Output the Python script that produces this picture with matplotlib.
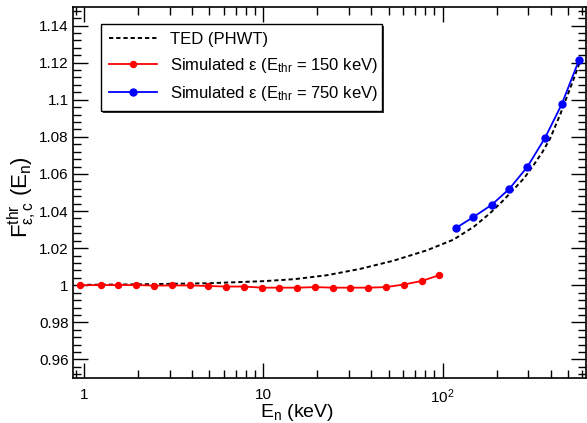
import matplotlib
matplotlib.use("Agg")
import matplotlib.pyplot as plt
from matplotlib.patches import Rectangle
from matplotlib.ticker import FixedLocator, FuncFormatter, MultipleLocator, LogLocator, NullFormatter

plt.rcParams['font.family'] = ['Liberation Sans', 'DejaVu Sans']
plt.rcParams['mathtext.fontset'] = 'custom'
plt.rcParams['mathtext.rm'] = 'Liberation Sans'
plt.rcParams['mathtext.it'] = 'Liberation Sans'
plt.rcParams['mathtext.bf'] = 'Liberation Sans:bold'

# ---- data ----
ted_E = [0.95, 2, 5, 10, 15, 22.6, 34.6, 53, 81.5, 115, 150, 184, 215, 248, 285, 320, 360, 397, 452, 525, 578]
ted_F = [1.0002, 1.0005, 1.0011, 1.0022, 1.0033, 1.0054, 1.0088, 1.0132, 1.0188, 1.0246, 1.0317, 1.0389,
         1.0452, 1.0515, 1.0578, 1.0645, 1.0718, 1.0790, 1.0920, 1.1085, 1.1195]

red_E = [0.95, 1.24, 1.55, 1.96, 2.46, 3.11, 3.9, 4.9, 6.17, 7.77, 9.84, 12.3, 15.5, 19.4, 24.4, 30.6,
         38.5, 48.3, 60.7, 76.4, 95.6]
red_F = [1.0000, 1.0001, 1.0001, 1.0001, 0.9998, 0.9999, 0.9999, 0.9996, 0.9993, 0.9993, 0.9987, 0.9987,
         0.9987, 0.9990, 0.9987, 0.9987, 0.9987, 0.9990, 1.0004, 1.0023, 1.0054]

blue_E = [118.8, 148, 188, 235.5, 296.6, 372.5, 461.5, 576]
blue_F = [1.0309, 1.0367, 1.0434, 1.0520, 1.0638, 1.0795, 1.0976, 1.1214]

x_ticks = [1, 10, 100]
x_ticklabels = ['1', '10', r'$\mathregular{10^{2}}$']
y_ticks = [0.96, 0.98, 1.0, 1.02, 1.04, 1.06, 1.08, 1.10, 1.12, 1.14]

labels = ['TED (PHWT)',
          r'Simulated ε (E$_{\mathregular{thr}}$ = 150 keV)',
          r'Simulated ε (E$_{\mathregular{thr}}$ = 750 keV)']

# ---- figure ----
fig = plt.figure(figsize=(5.87, 4.23), dpi=100)
ax = fig.add_axes([73/587, 45/423, 513/587, 371/423])

ax.plot(ted_E, ted_F, color='black', lw=1.4, dashes=(2.2, 1.5), label=labels[0])
ax.plot(red_E, red_F, color=(1, 0, 0), lw=1.3, marker='o', ms=4.3, label=labels[1])
ax.plot(blue_E, blue_F, color=(0, 0, 1), lw=1.3, marker='o', ms=5.0, label=labels[2])

ax.set_xscale('log')
ax.set_xlim(0.868, 630)
ax.set_ylim(0.95, 1.15)

ax.xaxis.set_major_locator(FixedLocator(x_ticks))
ax.xaxis.set_major_formatter(FuncFormatter(lambda v, p: x_ticklabels[x_ticks.index(round(v))] if round(v) in x_ticks else ''))
ax.xaxis.set_minor_locator(LogLocator(base=10, subs=range(2, 10)))
ax.xaxis.set_minor_formatter(NullFormatter())
ax.yaxis.set_major_locator(FixedLocator(y_ticks))
ax.yaxis.set_major_formatter(FuncFormatter(lambda v, p: '%g' % round(v, 2)))
ax.yaxis.set_minor_locator(MultipleLocator(0.004))

ax.tick_params(which='both', direction='in', top=True, right=True, labelsize=11, width=1)
ax.tick_params(which='major', length=11)
ax.tick_params(which='minor', length=5.5)
ax.tick_params(axis='x', which='major', pad=7)
ax.tick_params(axis='y', which='major', pad=3)
for s in ax.spines.values():
    s.set_linewidth(1.2)

fig.text(260/587, 1 - 417/423, r'E$_{\mathregular{n}}$ (keV)', fontsize=14, ha='left', va='baseline')
fig.text(22/587, 1 - 197/423, r'F$^{\mathregular{thr}}_{\mathregular{ε,c}}$ (E$_{\mathregular{n}}$)',
         fontsize=16, rotation=90, ha='center', va='center')

x0 = (101 - 73) / 513
x1 = (382 - 73) / 513
y0 = (378 - 111.7) / 371
y1 = (378 - 24.3) / 371
leg = ax.legend(loc='upper left', bbox_to_anchor=(x0, y0, x1 - x0, y1 - y0), mode='expand',
                fontsize=12, frameon=True, fancybox=False, shadow=False, edgecolor='black',
                handlelength=2.9, handletextpad=0.8, labelspacing=0.55, borderpad=0.45, borderaxespad=0)
leg.get_frame().set_linewidth(1.0)
leg.get_frame().set_alpha(None)
leg.get_frame().set_facecolor('white')

fig.canvas.draw()
bb = leg.get_window_extent()
shadow = Rectangle((bb.x0 + 2, bb.y0 - 2), bb.width, bb.height, transform=None,
                   facecolor='#333333', edgecolor='none', zorder=4.9)
ax.add_artist(shadow)

fig.savefig('out.png', dpi=100)
